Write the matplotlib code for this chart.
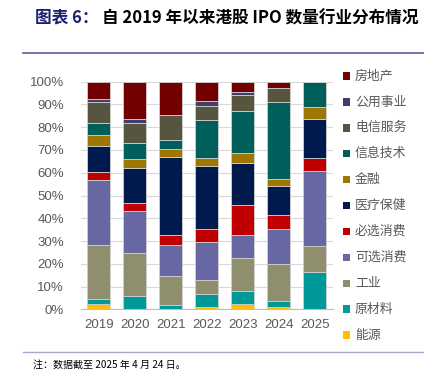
import matplotlib
matplotlib.use("Agg")
import matplotlib.pyplot as plt
from matplotlib.patches import Rectangle
from matplotlib.lines import Line2D
import numpy as np

plt.rcParams['font.family'] = ['Noto Sans CJK SC', 'DejaVu Sans']

years = ["2019", "2020", "2021", "2022", "2023", "2024", "2025"]
# bottom -> top
categories = ["能源", "原材料", "工业", "可选消费", "必选消费", "医疗保健",
              "金融", "信息技术", "电信服务", "公用事业", "房地产"]
colors = ["#FFC000", "#009999", "#8F8F6E", "#6767A3", "#C00000", "#001A4D",
          "#9E7700", "#005F5A", "#575440", "#3F3F6B", "#730000"]

energy      = [2.3, 0.0, 0.0, 0.9, 2.3, 0.9, 0.0]
materials   = [2.4, 6.0, 1.8, 6.0, 5.9, 2.9, 16.4]
industrial  = [23.6, 18.6, 12.8, 5.8, 14.3, 16.0, 11.3]
discretion  = [28.7, 18.4, 13.8, 16.7, 10.0, 15.6, 33.2]
staples     = [3.2, 3.6, 4.4, 6.0, 13.2, 5.9, 5.7]
healthcare  = [11.7, 15.6, 34.3, 27.6, 18.4, 12.7, 16.9]
financials  = [4.8, 3.7, 3.3, 3.6, 4.4, 3.2, 5.2]
infotech    = [5.3, 7.0, 4.0, 16.6, 18.8, 34.0, 11.3]
telecom     = [8.9, 8.8, 10.8, 6.1, 7.0, 5.9, 0.0]
utilities   = [1.3, 2.0, 0.0, 2.4, 1.3, 0.0, 0.0]
realestate  = [7.8, 16.3, 14.8, 8.3, 4.4, 2.9, 0.0]

series = [energy, materials, industrial, discretion, staples, healthcare,
          financials, infotech, telecom, utilities, realestate]

title_prefix = "图表 6： "
title_rest = "自 2019 年以来港股 IPO 数量行业分布情况"
footnote = "注：数据截至 2025 年 4 月 24 日。"

W, H = 424, 379
fig = plt.figure(figsize=(W / 100, H / 100), dpi=100)
ax = fig.add_axes([80.7 / W, 1 - 309.3 / H, 252 / W, 227.6 / H])

x = np.arange(len(years))
bottom = np.zeros(len(years))
for vals, col in zip(series, colors):
    v = np.array(vals)
    ax.bar(x, v, width=0.65, bottom=bottom, color=col, edgecolor="#D0D0D0",
           linewidth=0.6, zorder=3)
    bottom += v

ax.set_xlim(-0.5, len(years) - 0.5)
ax.set_ylim(0, 100)
ax.set_yticks(np.arange(0, 101, 10))
ax.set_yticklabels([f"{v}%" for v in range(0, 101, 10)])
ax.set_xticks(x)
ax.set_xticklabels(years)
ax.yaxis.grid(True, color="#D9D9D9", linewidth=0.8, zorder=0)
ax.set_axisbelow(True)
for s in ["top", "right", "left"]:
    ax.spines[s].set_visible(False)
ax.spines["bottom"].set_color("#BFBFBF")
ax.spines["bottom"].set_linewidth(0.8)
ax.tick_params(axis="both", length=0, colors="#595959", labelsize=9.5)
ax.tick_params(axis="y", pad=12)
ax.tick_params(axis="x", pad=7)
for lab in ax.get_xticklabels() + ax.get_yticklabels():
    lab.set_fontfamily(["Liberation Sans", "DejaVu Sans"])

# legend (top -> bottom)
y0, dy = 76.0, 25.9
for i, (cat, col) in enumerate(zip(categories[::-1], colors[::-1])):
    yc = y0 + i * dy
    fig.patches.append(Rectangle((343 / W, 1 - (yc + 3.7) / H), 7.3 / W, 7.4 / H,
                                 transform=fig.transFigure, facecolor=col,
                                 edgecolor="none"))
    fig.text(355 / W, 1 - yc / H, cat, fontsize=9.3, color="#595959",
             va="center", ha="left")

# title
t1 = fig.text(35 / W, 1 - 18 / H, title_prefix, fontsize=12, fontweight="bold",
              color="#1F1F6E", va="center", ha="left")
fig.canvas.draw()
bb = t1.get_window_extent(fig.canvas.get_renderer())
fig.text(bb.x1 / W, 1 - 18 / H, title_rest, fontsize=12, fontweight="bold",
         color="#000000", va="center", ha="left")

# rules
fig.add_artist(Line2D([23 / W, 1], [1 - 53 / H] * 2, color="#5E5EA0", linewidth=1.2,
                      transform=fig.transFigure))
fig.add_artist(Line2D([23 / W, 1], [1 - 351.5 / H] * 2, color="#A8A8CC", linewidth=1.0,
                      transform=fig.transFigure))

fig.text(33 / W, 1 - 365 / H, footnote, fontsize=7.2, color="#000000",
         va="center", ha="left")

fig.savefig("out.png", dpi=100)
